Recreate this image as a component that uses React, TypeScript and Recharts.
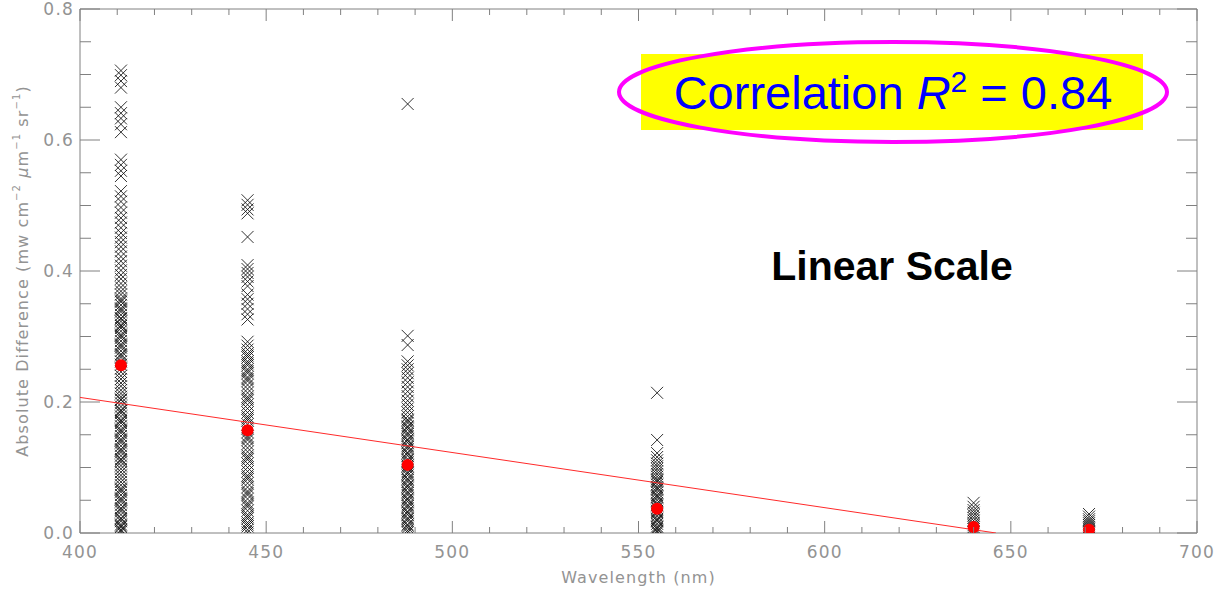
import { ScatterChart, Scatter, XAxis, YAxis } from "recharts";

// band centres (nm)
const bands = [411, 445, 488, 555, 640, 671];

// absolute differences per band
const diff411 = [
  0.706, 0.699, 0.69, 0.68, 0.65, 0.641, 0.633, 0.624, 0.612, 0.57, 0.562, 0.553, 0.545, 0.522, 0.514, 0.506,
  0.497, 0.489, 0.481, 0.474, 0.466, 0.458, 0.451, 0.444, 0.437, 0.43, 0.422, 0.415, 0.408, 0.401, 0.394, 0.388,
  0.381, 0.375, 0.369, 0.364, 0.358, 0.353, 0.348, 0.343, 0.338, 0.333, 0.328, 0.323, 0.318, 0.313, 0.308, 0.303,
  0.298, 0.293, 0.288, 0.283, 0.278, 0.273, 0.268, 0.262, 0.257, 0.251, 0.246, 0.24, 0.235, 0.229, 0.224, 0.218,
  0.213, 0.208, 0.203, 0.198, 0.193, 0.188, 0.183, 0.178, 0.173, 0.168, 0.163, 0.158, 0.153, 0.148, 0.143, 0.138,
  0.133, 0.128, 0.123, 0.118, 0.113, 0.108, 0.103, 0.098, 0.093, 0.088, 0.083, 0.078, 0.073, 0.068, 0.063, 0.058,
  0.053, 0.048, 0.043, 0.038, 0.033, 0.028, 0.023, 0.018, 0.013, 0.009, 0.005, 0.002, 0.355, 0.341, 0.327, 0.316,
  0.301, 0.286, 0.271, 0.204, 0.186, 0.171, 0.156, 0.141, 0.126, 0.111, 0.066, 0.051, 0.036, 0.021, 0.011, 0.004,
];
const diff445 = [
  0.508, 0.501, 0.494, 0.488, 0.452, 0.409, 0.403, 0.397, 0.391, 0.384, 0.377, 0.364, 0.357, 0.35, 0.342, 0.334,
  0.326, 0.292, 0.286, 0.28, 0.274, 0.268, 0.262, 0.256, 0.25, 0.244, 0.238, 0.232, 0.226, 0.22, 0.214, 0.208,
  0.202, 0.196, 0.19, 0.184, 0.178, 0.172, 0.166, 0.16, 0.154, 0.148, 0.142, 0.136, 0.13, 0.124, 0.118, 0.112,
  0.106, 0.1, 0.094, 0.088, 0.082, 0.076, 0.07, 0.064, 0.058, 0.052, 0.046, 0.04, 0.034, 0.028, 0.022, 0.016,
  0.01, 0.005, 0.001, 0.271, 0.259, 0.247, 0.235, 0.205, 0.175, 0.145, 0.115, 0.085, 0.061, 0.043, 0.025, 0.013,
];
const diff488 = [
  0.655, 0.301, 0.287, 0.262, 0.256, 0.25, 0.244, 0.237, 0.23, 0.223, 0.216, 0.209, 0.202, 0.196, 0.19, 0.184,
  0.178, 0.173, 0.168, 0.163, 0.158, 0.153, 0.148, 0.143, 0.138, 0.133, 0.128, 0.123, 0.118, 0.113, 0.108, 0.103,
  0.098, 0.093, 0.088, 0.083, 0.078, 0.073, 0.068, 0.063, 0.058, 0.053, 0.048, 0.043, 0.038, 0.033, 0.028, 0.023,
  0.018, 0.013, 0.008, 0.004, 0.001, 0.171, 0.161, 0.151, 0.141, 0.131, 0.121, 0.111, 0.101, 0.091, 0.081, 0.071,
  0.061, 0.051, 0.041, 0.031, 0.021, 0.011,
];
const diff555 = [
  0.214, 0.142, 0.122, 0.116, 0.111, 0.106, 0.102, 0.098, 0.094, 0.09, 0.086, 0.082, 0.078, 0.074, 0.07, 0.066,
  0.062, 0.058, 0.054, 0.05, 0.046, 0.042, 0.038, 0.034, 0.03, 0.026, 0.022, 0.018, 0.014, 0.01, 0.006, 0.003,
  0.001, 0.08, 0.068, 0.056, 0.044, 0.032, 0.02, 0.008,
];
const diff640 = [0.046, 0.04, 0.035, 0.031, 0.027, 0.023, 0.019, 0.015, 0.012, 0.009, 0.006, 0.003, 0.001];
const diff671 = [0.029, 0.025, 0.021, 0.018, 0.015, 0.012, 0.009, 0.006, 0.003, 0.001];

// per-band mean difference
const meanDiff = [0.256, 0.157, 0.104, 0.037, 0.009, 0.005];

// linear fit end points
const fitX = [400, 646];
const fitY = [0.207, 0];

const xTicks = [
  400, 410, 420, 430, 440, 450, 460, 470, 480, 490, 500, 510, 520, 530, 540, 550, 560, 570, 580, 590, 600, 610,
  620, 630, 640, 650, 660, 670, 680, 690, 700,
];
const xMajor = [400, 450, 500, 550, 600, 650, 700];
const yTicks = [0, 0.05, 0.1, 0.15, 0.2, 0.25, 0.3, 0.35, 0.4, 0.45, 0.5, 0.55, 0.6, 0.65, 0.7, 0.75, 0.8];
const yMajor = [0, 0.2, 0.4, 0.6, 0.8];
const yLabels = ["0.0", "0.2", "0.4", "0.6", "0.8"];

const columns = [diff411, diff445, diff488, diff555, diff640, diff671];
const points = bands.flatMap((b, i) => columns[i].map((v) => ({ x: b, y: v })));
const means = bands.map((b, i) => ({ x: b, y: meanDiff[i] }));
const fit = fitX.map((x, i) => ({ x, y: fitY[i] }));

const AXIS = "#808080";
const LABEL = "#939393";
const TICK_FONT = "DejaVu Sans";

function Cross(props: any) {
  const { cx, cy } = props;
  const s = 6;
  return (
    <path
      d={`M${cx - s},${cy - s}L${cx + s},${cy + s}M${cx + s},${cy - s}L${cx - s},${cy + s}`}
      stroke="#111"
      strokeOpacity={0.85}
      strokeWidth={1}
      fill="none"
    />
  );
}

function Dot(props: any) {
  return <circle cx={props.cx} cy={props.cy} r={6} fill="#ff0000" />;
}

function NoShape() {
  return <g />;
}

function BottomTick({ x, y, payload }: any) {
  const major = xMajor.includes(payload.value);
  return (
    <g>
      <line x1={x} x2={x} y1={y} y2={y - (major ? 12 : 6)} stroke={AXIS} />
      {major && (
        <text x={x} y={y + 25} textAnchor="middle" fontFamily={TICK_FONT} fontSize={17} fill={LABEL} letterSpacing={1.2}>
          {payload.value}
        </text>
      )}
    </g>
  );
}

function TopTick({ x, y, payload }: any) {
  const major = xMajor.includes(payload.value);
  return <line x1={x} x2={x} y1={y} y2={y + (major ? 12 : 6)} stroke={AXIS} />;
}

function LeftTick({ x, y, payload }: any) {
  const idx = yMajor.indexOf(payload.value);
  const major = idx >= 0;
  return (
    <g>
      <line x1={x} x2={x + (major ? 20 : 11)} y1={y} y2={y} stroke={AXIS} />
      {major && (
        <text x={x - 6} y={y + 6} textAnchor="end" fontFamily={TICK_FONT} fontSize={17} fill={LABEL} letterSpacing={1.2}>
          {yLabels[idx]}
        </text>
      )}
    </g>
  );
}

function RightTick({ x, y, payload }: any) {
  const major = yMajor.includes(payload.value);
  return <line x1={x} x2={x - (major ? 20 : 11)} y1={y} y2={y} stroke={AXIS} />;
}

function YTitle({ viewBox }: any) {
  const cx = 22;
  const cy = viewBox.y + viewBox.height / 2;
  return (
    <text
      x={cx}
      y={cy}
      transform={`rotate(-90, ${cx}, ${cy})`}
      textAnchor="middle"
      dominantBaseline="central"
      fontFamily={TICK_FONT}
      fontSize={16}
      fill={LABEL}
      letterSpacing={1.1}
    >
      Absolute Difference (mw cm
      <tspan dy={-6} fontSize={10}>−2</tspan>
      <tspan dy={6}> </tspan>
      <tspan fontStyle="italic">μ</tspan>m
      <tspan dy={-6} fontSize={10}>−1</tspan>
      <tspan dy={6}> sr</tspan>
      <tspan dy={-6} fontSize={10}>−1</tspan>
      <tspan dy={6}>)</tspan>
    </text>
  );
}

function XTitle({ viewBox }: any) {
  const cx = viewBox.x + viewBox.width / 2;
  return (
    <text x={cx} y={583} textAnchor="middle" fontFamily={TICK_FONT} fontSize={16} fill={LABEL} letterSpacing={1.1}>
      Wavelength (nm)
    </text>
  );
}

export default function App() {
  return (
    <div style={{ position: "absolute", left: 0, top: 0, width: 1218, height: 598, background: "#fff" }}>
      <ScatterChart width={1218} height={598} margin={{ top: 8, right: 20, bottom: 64, left: 79 }}>
        <XAxis
          xAxisId="bottom"
          type="number"
          dataKey="x"
          domain={[400, 700]}
          allowDataOverflow
          ticks={xTicks}
          interval={0}
          height={1}
          tickSize={0}
          tickMargin={0}
          tickLine={false}
          axisLine={{ stroke: AXIS }}
          tick={<BottomTick />}
          label={{ content: XTitle }}
        />
        <XAxis
          xAxisId="top"
          orientation="top"
          type="number"
          dataKey="x"
          domain={[400, 700]}
          allowDataOverflow
          ticks={xTicks}
          interval={0}
          height={1}
          tickSize={0}
          tickMargin={0}
          tickLine={false}
          axisLine={{ stroke: AXIS }}
          tick={<TopTick />}
        />
        <YAxis
          yAxisId="left"
          type="number"
          dataKey="y"
          domain={[0, 0.8]}
          allowDataOverflow
          ticks={yTicks}
          interval={0}
          width={1}
          tickSize={0}
          tickMargin={0}
          tickLine={false}
          axisLine={{ stroke: AXIS }}
          tick={<LeftTick />}
          label={{ content: YTitle }}
        />
        <YAxis
          yAxisId="right"
          orientation="right"
          type="number"
          dataKey="y"
          domain={[0, 0.8]}
          allowDataOverflow
          ticks={yTicks}
          interval={0}
          width={1}
          tickSize={0}
          tickMargin={0}
          tickLine={false}
          axisLine={{ stroke: AXIS }}
          tick={<RightTick />}
        />
        <Scatter xAxisId="bottom" yAxisId="left" data={points} shape={Cross} isAnimationActive={false} />
        <Scatter
          xAxisId="bottom"
          yAxisId="left"
          data={fit}
          line={{ stroke: "#ff2a2a", strokeWidth: 1 }}
          shape={NoShape}
          isAnimationActive={false}
        />
        <Scatter xAxisId="bottom" yAxisId="left" data={means} shape={Dot} isAnimationActive={false} />
      </ScatterChart>
      <svg width={1218} height={598} style={{ position: "absolute", left: 0, top: 0, pointerEvents: "none" }}>
        <rect x={641} y={54} width={502} height={76} fill="#ffff00" />
        <ellipse cx={893} cy={92} rx={274} ry={50} fill="none" stroke="#ff00ff" strokeWidth={4} />
        <text x={893} y={109} textAnchor="middle" fontFamily="Liberation Sans" fontSize={47} fill="#0000ff">
          Correlation <tspan fontStyle="italic">R</tspan>
          <tspan dy={-17} fontSize={30}>2</tspan>
          <tspan dy={17}> = 0.84</tspan>
        </text>
        <text x={892} y={280} textAnchor="middle" fontFamily="Liberation Sans" fontWeight="bold" fontSize={41} fill="#000">
          Linear Scale
        </text>
      </svg>
    </div>
  );
}
